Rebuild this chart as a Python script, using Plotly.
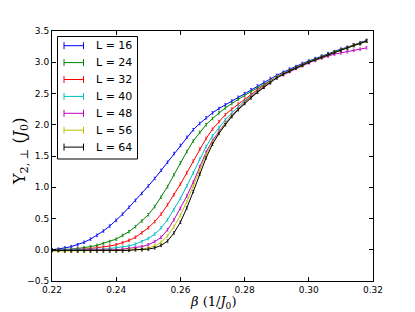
import plotly.graph_objects as go

BETA = [0.220, 0.222, 0.224, 0.226, 0.228, 0.230, 0.232, 0.234, 0.236, 0.238,
        0.240, 0.242, 0.244, 0.246, 0.248, 0.250, 0.252, 0.254, 0.256, 0.258,
        0.260, 0.262, 0.264, 0.266, 0.268, 0.270, 0.272, 0.274, 0.276, 0.278,
        0.280, 0.282, 0.284, 0.286, 0.288, 0.290, 0.292, 0.294, 0.296, 0.298,
        0.300, 0.302, 0.304, 0.306, 0.308, 0.310, 0.312, 0.314, 0.316, 0.318]

L16 = [0.00, 0.01, 0.03, 0.05, 0.08, 0.12, 0.17, 0.23, 0.30, 0.38,
       0.47, 0.57, 0.68, 0.79, 0.90, 1.02, 1.14, 1.27, 1.40, 1.54,
       1.67, 1.80, 1.92, 2.02, 2.11, 2.19, 2.26, 2.32, 2.38, 2.44,
       2.50, 2.56, 2.62, 2.68, 2.74, 2.79, 2.84, 2.89, 2.93, 2.98,
       3.02, 3.06, 3.10, 3.14, 3.17, 3.21, 3.24, 3.28, 3.31, 3.35]
L24 = [0.00, 0.00, 0.01, 0.01, 0.02, 0.03, 0.05, 0.07, 0.10, 0.13,
       0.17, 0.23, 0.29, 0.37, 0.46, 0.56, 0.69, 0.84, 1.01, 1.20,
       1.39, 1.57, 1.74, 1.88, 2.00, 2.10, 2.19, 2.27, 2.34, 2.41,
       2.47, 2.53, 2.59, 2.65, 2.71, 2.77, 2.82, 2.87, 2.92, 2.96,
       3.01, 3.05, 3.09, 3.13, 3.16, 3.20, 3.23, 3.27, 3.30, 3.34]
L32 = [0.00, 0.00, 0.00, 0.00, 0.01, 0.01, 0.02, 0.03, 0.04, 0.06,
       0.08, 0.11, 0.15, 0.20, 0.27, 0.35, 0.45, 0.57, 0.72, 0.88,
       1.05, 1.23, 1.42, 1.61, 1.78, 1.93, 2.05, 2.16, 2.25, 2.33,
       2.41, 2.48, 2.56, 2.63, 2.70, 2.76, 2.81, 2.86, 2.91, 2.95,
       3.00, 3.04, 3.08, 3.12, 3.16, 3.19, 3.23, 3.27, 3.30, 3.34]
L40 = [0.00, 0.00, 0.00, 0.00, 0.00, 0.00, 0.00, 0.01, 0.01, 0.02,
       0.03, 0.04, 0.06, 0.09, 0.13, 0.18, 0.25, 0.35, 0.48, 0.64,
       0.82, 1.02, 1.23, 1.45, 1.65, 1.82, 1.96, 2.08, 2.19, 2.29,
       2.38, 2.46, 2.54, 2.62, 2.69, 2.76, 2.81, 2.86, 2.91, 2.95,
       3.00, 3.04, 3.08, 3.12, 3.16, 3.19, 3.23, 3.27, 3.30, 3.34]
L48 = [-0.01, -0.01, -0.01, -0.01, -0.01, 0.00, 0.00, 0.00, 0.00, 0.00,
       0.00, 0.01, 0.02, 0.03, 0.05, 0.08, 0.13, 0.20, 0.32, 0.48,
       0.66, 0.86, 1.08, 1.33, 1.56, 1.75, 1.90, 2.03, 2.15, 2.26,
       2.36, 2.45, 2.53, 2.61, 2.68, 2.75, 2.80, 2.85, 2.90, 2.95,
       2.99, 3.03, 3.07, 3.10, 3.13, 3.15, 3.17, 3.19, 3.21, 3.23]
L56 = [-0.02, -0.02, -0.02, -0.02, -0.02, -0.02, -0.02, -0.02, -0.01, -0.01,
       -0.01, -0.01, 0.00, 0.00, 0.01, 0.03, 0.06, 0.12, 0.22, 0.37,
       0.55, 0.77, 1.02, 1.28, 1.52, 1.72, 1.88, 2.02, 2.14, 2.25,
       2.35, 2.44, 2.52, 2.60, 2.68, 2.76, 2.81, 2.86, 2.91, 2.95,
       3.00, 3.04, 3.08, 3.12, 3.16, 3.19, 3.23, 3.27, 3.30, 3.34]
L64 = [-0.01, -0.01, -0.02, -0.02, -0.02, -0.02, -0.02, -0.02, -0.02, -0.02,
       -0.02, -0.02, -0.01, 0.00, 0.00, 0.01, 0.03, 0.07, 0.14, 0.27,
       0.44, 0.67, 0.93, 1.21, 1.47, 1.69, 1.86, 2.00, 2.13, 2.24,
       2.34, 2.43, 2.52, 2.60, 2.67, 2.75, 2.81, 2.86, 2.91, 2.95,
       3.00, 3.04, 3.08, 3.12, 3.16, 3.19, 3.23, 3.27, 3.30, 3.34]

ERR = 0.02

LABELS = ["L = 16", "L = 24", "L = 32", "L = 40", "L = 48", "L = 56", "L = 64"]
SERIES = [L16, L24, L32, L40, L48, L56, L64]
COLORS = ["#0000ff", "#008000", "#ff0000", "#00bfbf", "#bf00bf", "#bfbf00", "#000000"]

X_TICKS = [0.22, 0.24, 0.26, 0.28, 0.30, 0.32]
Y_TICKS = [-0.5, 0.0, 0.5, 1.0, 1.5, 2.0, 2.5, 3.0, 3.5]

fig = go.Figure()
for lab, ys, col in zip(LABELS, SERIES, COLORS):
    fig.add_trace(go.Scatter(
        x=BETA, y=ys, name=lab, mode="lines",
        line=dict(color=col, width=1),
        error_y=dict(type="constant", value=ERR, color=col, thickness=0.7, width=1),
        showlegend=False,
    ))

# page body has an 8px margin; figure coordinates are window coordinates minus OFF
OFF = 8
W, H = 407, 304
ML, MT = 44, 23
PW, PH = 321, 250
MR = W - ML - PW
MB = H - MT - PH

def px(xw):
    return (xw - OFF - ML) / PW

def py(yw):
    return (MT + PH - (yw - OFF)) / PH

shapes = []
annotations = []
shapes.append(dict(type="rect", xref="paper", yref="paper",
                   x0=px(57.5), x1=px(137.5), y0=py(159), y1=py(36.5),
                   line=dict(color="black", width=1), fillcolor="white", layer="above"))
for i, (lab, col) in enumerate(zip(LABELS, COLORS)):
    yc = 45.7 + 16.9 * i
    shapes.append(dict(type="line", xref="paper", yref="paper",
                       x0=px(64), x1=px(83.5), y0=py(yc), y1=py(yc),
                       line=dict(color=col, width=1), layer="above"))
    for xe in (64, 83.5):
        shapes.append(dict(type="line", xref="paper", yref="paper",
                           x0=px(xe), x1=px(xe), y0=py(yc - 3.5), y1=py(yc + 3.5),
                           line=dict(color=col, width=1), layer="above"))
    annotations.append(dict(xref="paper", yref="paper", x=px(94), y=py(yc),
                            xanchor="left", yanchor="middle", showarrow=False,
                            text=lab, font=dict(family="DejaVu Sans", size=11, color="black")))

annotations.append(dict(xref="paper", yref="paper", x=px(212.5), y=py(302),
                        xanchor="center", yanchor="middle", showarrow=False,
                        text="<i>β</i> (1/<i>J</i><sub>0</sub>)",
                        font=dict(family="DejaVu Serif", size=13, color="black")))
annotations.append(dict(xref="paper", yref="paper", x=px(8.5), y=py(152),
                        xanchor="left", yanchor="middle", showarrow=False, textangle=-90,
                        borderpad=0,
                        text="Υ<sub>2, ⊥</sub> (<i>J</i><sub>0</sub>)",
                        font=dict(family="DejaVu Serif", size=16, color="black")))

axis_common = dict(showgrid=False, zeroline=False, showline=True, linecolor="black",
                   linewidth=1, mirror="ticks", ticks="inside", ticklen=4,
                   tickcolor="black", tickwidth=1,
                   tickfont=dict(family="DejaVu Sans", size=9, color="black"))

fig.update_layout(
    width=W, height=H,
    margin=dict(l=ML, r=MR, t=MT, b=MB),
    paper_bgcolor="white", plot_bgcolor="white",
    xaxis=dict(range=[0.22, 0.32], tickvals=X_TICKS,
               ticktext=[f"{v:.2f}" for v in X_TICKS], **axis_common),
    yaxis=dict(range=[-0.5, 3.5], tickvals=Y_TICKS,
               ticktext=[(f"{v:.1f}" if v >= 0 else "\u2212" + f"{-v:.1f}") for v in Y_TICKS],
               **axis_common),
    shapes=shapes, annotations=annotations,
    showlegend=False,
)

fig.write_html("out.html")
